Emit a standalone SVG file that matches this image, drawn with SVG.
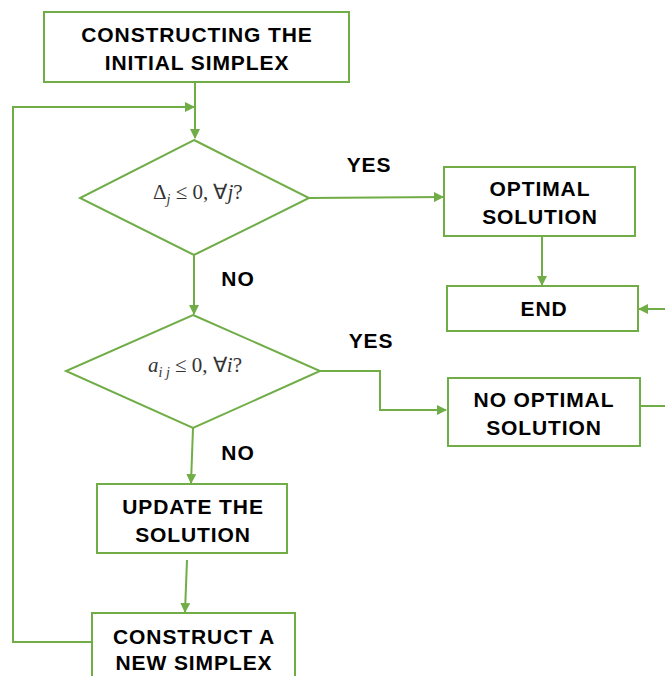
<svg xmlns="http://www.w3.org/2000/svg" width="665" height="676" viewBox="0 0 665 676">
<style>
.box{fill:#fff;stroke:#70AD47;stroke-width:2}
.lbl{font-family:"Liberation Sans",Arial,sans-serif;font-weight:bold;font-size:21px;letter-spacing:0.9px;fill:#000;text-anchor:middle}
.math{font-family:"Liberation Serif","Times New Roman",serif;font-size:21px;fill:#333}
.con{fill:none;stroke:#70AD47;stroke-width:2}
</style>
<defs>
<marker id="ah" markerWidth="10" markerHeight="10" refX="9" refY="5" orient="auto" markerUnits="userSpaceOnUse">
<path d="M0,0 L10,5 L0,10 z" fill="#70AD47"/>
</marker>
</defs>
<rect width="665" height="676" fill="#fff"/>
<g id="connectors">
<path class="con" d="M195,82 V138" marker-end="url(#ah)"/>
<path class="con" d="M92,642 H13 V107 H194" marker-end="url(#ah)"/>
<path class="con" d="M309,198 L443,197" marker-end="url(#ah)"/>
<path class="con" d="M542,236 V285" marker-end="url(#ah)"/>
<path class="con" d="M194,255 V314" marker-end="url(#ah)"/>
<path class="con" d="M320,371 H380 V410 H446" marker-end="url(#ah)"/>
<path class="con" d="M640,406 H675 V309 H639" marker-end="url(#ah)"/>
<path class="con" d="M193,428 L191,483" marker-end="url(#ah)"/>
<path class="con" d="M187,560 L185,612" marker-end="url(#ah)"/>
</g>
<g id="start">
<rect class="box" x="44" y="12" width="305" height="70"/>
<text class="lbl" x="197" y="42">CONSTRUCTING THE</text>
<text class="lbl" x="197" y="70">INITIAL SIMPLEX</text>
</g>
<g id="decision1">
<polygon class="box" points="194,140 309,198 194,255 80,198"/>
<text class="math" x="153" y="199">Δ<tspan font-style="italic" font-size="14" dy="5">j</tspan><tspan dy="-5"> ≤ 0, ∀</tspan><tspan font-style="italic">j</tspan>?</text>
</g>
<g id="yes1"><text class="lbl" x="369" y="172">YES</text></g>
<g id="optimal">
<rect class="box" x="444" y="167" width="191" height="69"/>
<text class="lbl" x="540" y="196">OPTIMAL</text>
<text class="lbl" x="540" y="224">SOLUTION</text>
</g>
<g id="end">
<rect class="box" x="447" y="286" width="191" height="45"/>
<text class="lbl" x="544" y="316">END</text>
</g>
<g id="no1"><text class="lbl" x="238" y="286">NO</text></g>
<g id="decision2">
<polygon class="box" points="193,315 320,371 193,428 66,371"/>
<text class="math" x="148" y="372"><tspan font-style="italic">a</tspan><tspan font-style="italic" font-size="14" dy="5">i j</tspan><tspan dy="-5"> ≤ 0, ∀</tspan><tspan font-style="italic">i</tspan>?</text>
</g>
<g id="yes2"><text class="lbl" x="371" y="348">YES</text></g>
<g id="nooptimal">
<rect class="box" x="448" y="378" width="192" height="68"/>
<text class="lbl" x="544" y="407">NO OPTIMAL</text>
<text class="lbl" x="544" y="435">SOLUTION</text>
</g>
<g id="no2"><text class="lbl" x="238" y="460">NO</text></g>
<g id="update">
<rect class="box" x="97" y="484" width="190" height="69"/>
<text class="lbl" x="193" y="514">UPDATE THE</text>
<text class="lbl" x="193" y="542">SOLUTION</text>
</g>
<g id="construct">
<rect class="box" x="92" y="613" width="203" height="80"/>
<text class="lbl" x="194" y="644">CONSTRUCT A</text>
<text class="lbl" x="194" y="670">NEW SIMPLEX</text>
</g>
</svg>
